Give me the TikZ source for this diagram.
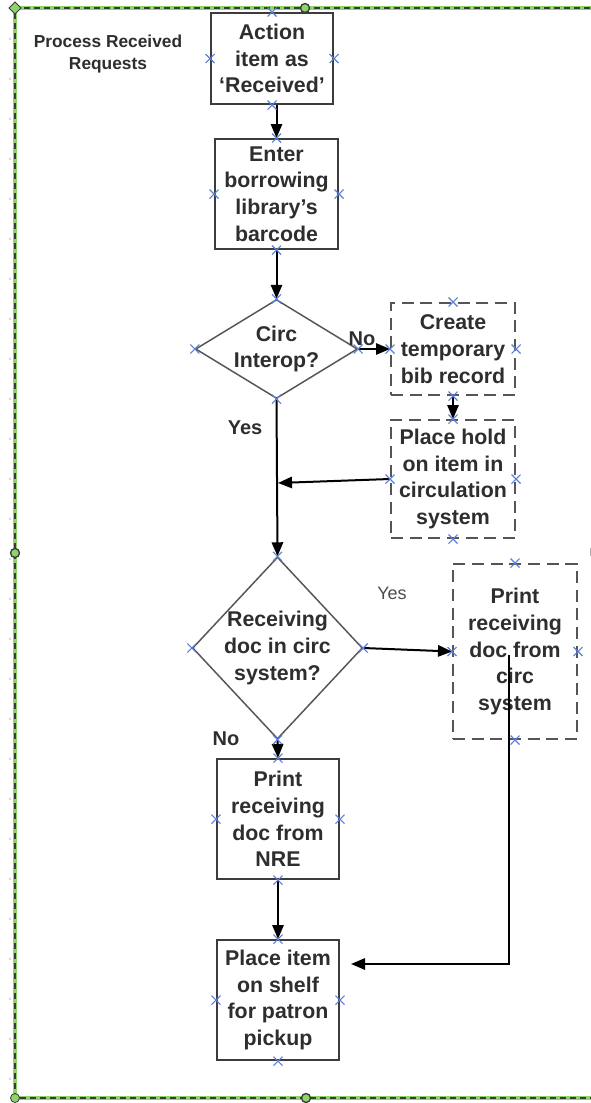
\documentclass[tikz,border=0pt]{standalone}
\usepackage{fontspec}
\setmainfont{Liberation Sans}
\usetikzlibrary{arrows.meta,shapes.geometric,calc}
\definecolor{txt}{HTML}{2E2E2E}
\definecolor{bord}{HTML}{3C3C3C}
\definecolor{dgray}{HTML}{555555}
\definecolor{mk}{HTML}{5B7FD6}
\definecolor{frgreen}{HTML}{8FD46A}
\definecolor{frdash}{HTML}{3A3A3A}
\begin{document}
\begin{tikzpicture}[x=0.75pt,y=-0.75pt,
  box/.style={draw=bord,line width=1.5pt,rectangle,inner sep=0pt,align=center,
    font=\bfseries\fontsize{16}{20}\selectfont,text=txt},
  dbox/.style={box,draw=dgray,dash pattern=on 9pt off 5pt,line width=1.5pt},
  dia/.style={draw=dgray,diamond,line width=1.1pt,inner sep=0pt},
  ttxt/.style={align=center,font=\bfseries\fontsize{16}{20}\selectfont,text=txt,inner sep=0pt},
  arr/.style={draw=black,line width=1.5pt,-{Triangle[length=10.5pt,width=8.5pt]}},
  lbl/.style={font=\bfseries\fontsize{15}{18}\selectfont,text=txt,inner sep=0pt},
  xm/.pic={\draw[mk,line width=0.8pt] (-4.5,-4.5)--(4.5,4.5) (-4.5,4.5)--(4.5,-4.5);}]
\useasboundingbox[fill=white] (0,0) rectangle (591,1103);
% frame
\draw[frgreen,line width=2.4pt] (600,8) -- (15,8) -- (15,1098) -- (600,1098);
\draw[frdash,line width=1.8pt,dash pattern=on 4.5pt off 3pt] (600,8) -- (15,8) -- (15,1098) -- (600,1098);
\foreach \yy in {39,79,...,1079} \fill[gray!60] (10,\yy) circle (0.9);
\fill[gray!60] (590,548) rectangle (591.5,556);
\filldraw[fill=frgreen,draw=frdash,line width=0.6pt] (15,2) -- (21,8) -- (15,14) -- (9,8) -- cycle;
\filldraw[fill=frgreen,draw=frdash,line width=1pt] (305,8) circle (4.5);
\filldraw[fill=frgreen,draw=frdash,line width=1pt] (15,553) circle (4.5);
\filldraw[fill=frgreen,draw=frdash,line width=0.6pt] (15,1098) circle (4.5);
\filldraw[fill=frgreen,draw=frdash,line width=1pt] (306,1098) circle (4.5);
% title
\node[font=\bfseries\fontsize{13}{16.5}\selectfont,text=txt,align=center,inner sep=0pt] (title) at (108,54) {Process Received\\Requests};
% nodes
\node[box,minimum width=91.5pt,minimum height=68.25pt] (act) at (272,58.5) {Action\\item as\\‘Received’};
\node[box,minimum width=92.25pt,minimum height=82.5pt] (ent) at (276.5,194) {Enter\\borrowing\\library’s\\barcode};
\node[dia,minimum width=121.5pt,minimum height=74.25pt] (circ) at (276.5,349) {};
\node[ttxt] (circt) at (circ) {Circ\\Interop?};
\node[dbox,minimum width=93pt,minimum height=69pt] (create) at (453,349) {Create\\temporary\\bib record};
\node[dbox,minimum width=93pt,minimum height=88.5pt] (hold) at (453,479) {Place hold\\on item in\\circulation\\system};
\node[dia,minimum width=127.5pt,minimum height=136.5pt] (recv) at (277.5,648) {};
\node[ttxt] (recvt) at (recv) {Receiving\\doc in circ\\system?};
\node[dbox,minimum width=93pt,minimum height=131.25pt] (circsys) at (515,651.5) {Print\\receiving\\doc from\\circ\\system};
\node[box,minimum width=91.5pt,minimum height=90pt] (nre) at (278,819) {Print\\receiving\\doc from\\NRE};
\node[box,minimum width=91.5pt,minimum height=90pt] (place) at (278,1000) {Place item\\on shelf\\for patron\\pickup};
% labels
\node[lbl] (lno1) at (362,339) {No};
\node[lbl] (lyes1) at (245,428) {Yes};
\node[font=\fontsize{13.5}{16}\selectfont,text=txt!85,inner sep=0pt] (lyes2) at (392,593) {Yes};
\node[lbl] (lno2) at (226,739) {No};
% connectors
\coordinate (j) at (278,483);
\coordinate (cs) at (509,655);
\coordinate (pe) at (351,964);
\draw[arr] (act.south -| ent.north) -- (ent.north);
\draw[arr] (ent.south) -- (circ.north);
\draw[arr] (circ.east) -- (create.west);
\draw[arr] (create.south) -- (hold.north);
\draw[arr] (hold.west) -- (j);
\draw[arr] (circ.south) -- (recv.north);
\draw[arr] (recv.east) -- (circsys.west);
\draw[arr] (recv.south) -- (nre.north);
\draw[arr] (nre.south) -- (place.north);
\draw[arr] (cs) |- (pe);
% markers
\foreach \n in {act,ent,circ,create,hold,recv,circsys,nre,place}
  \foreach \a in {north,south,east,west}
    \pic at (\n.\a) {xm};
\end{tikzpicture}
\end{document}
